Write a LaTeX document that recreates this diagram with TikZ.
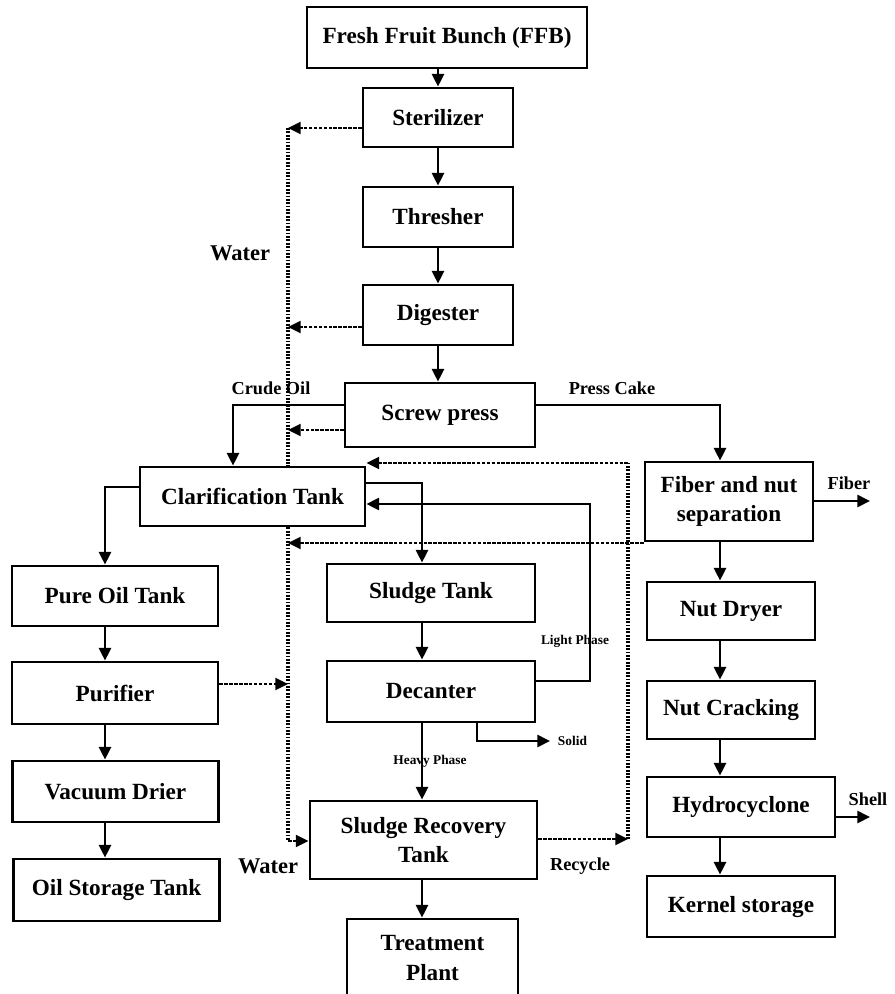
\documentclass[tikz,border=0pt]{standalone}
\usepackage{fontspec}
\setmainfont{Liberation Serif}
\usetikzlibrary{arrows.meta}

\begin{document}
\begin{tikzpicture}[
        x=0.025cm, y=-0.025cm,
        box/.style={draw, line width=2pt, align=center, inner sep=0pt,
                    font=\bfseries\fontsize{16.5}{21}\selectfont},
        arr/.style={-{Triangle[length=9pt, width=8.5pt]}, line width=2pt},
        wline/.style={line width=2.6pt, dash pattern=on 1.3pt off 1.1pt},
        warr/.style={-{Triangle[length=9pt, width=8.5pt]}, line width=1.5pt,
                     dash pattern=on 2.5pt off 1pt},
        lbl/.style={font=\bfseries\fontsize{13}{15}\selectfont},
        slbl/.style={font=\bfseries\fontsize{9.5}{11}\selectfont}
    ]
    \useasboundingbox (0,0) rectangle (895,994);
    \clip (0,0) rectangle (895,994);

    \node[box, minimum width=7cm,    minimum height=1.525cm] (ffb)  at (447,37.5)  {Fresh Fruit Bunch (FFB)};
    \node[box, minimum width=3.75cm, minimum height=1.475cm] (ster) at (438,117.5) {Sterilizer};
    \node[box, minimum width=3.75cm, minimum height=1.5cm]   (thre) at (438,217)   {Thresher};
    \node[box, minimum width=3.75cm, minimum height=1.5cm]   (dige) at (438,315)   {Digester};
    \node[box, minimum width=4.75cm, minimum height=1.6cm]   (scrw) at (440,415)   {Screw press};

    \node[box, minimum width=5.625cm, minimum height=1.475cm] (clar) at (252.5,496.5) {Clarification Tank};
    \node[box, minimum width=5.15cm,  minimum height=1.5cm]   (pure) at (115,596)     {Pure Oil Tank};
    \node[box, minimum width=5.15cm,  minimum height=1.55cm]  (puri) at (115,693)     {Purifier};
    \node[box, minimum width=5.15cm,  minimum height=1.525cm] (vacu) at (115.5,791.5) {Vacuum Drier};
    \node[box, minimum width=5.15cm,  minimum height=1.55cm]  (stor) at (116.5,890)   {Oil Storage Tank};

    \node[box, minimum width=5.2cm,   minimum height=1.45cm]  (sldg) at (431,593)     {Sludge Tank};
    \node[box, minimum width=5.2cm,   minimum height=1.525cm] (deca) at (431,691.5)   {Decanter};
    \node[box, minimum width=5.675cm, minimum height=1.95cm]  (srec) at (423.5,840)   {Sludge Recovery\\Tank};
    \node[box, minimum width=4.275cm, minimum height=1.95cm]  (trea) at (432.5,958)   {Treatment\\Plant};

    \node[box, minimum width=4.2cm, minimum height=1.975cm] (fibr) at (729,501.5) {Fiber and nut\\separation};
    \node[box, minimum width=4.2cm, minimum height=1.45cm]  (nutd) at (731,611)   {Nut Dryer};
    \node[box, minimum width=4.2cm, minimum height=1.45cm]  (nutc) at (731,710)   {Nut Cracking};
    \node[box, minimum width=4.7cm, minimum height=1.5cm]   (hydr) at (741,807)   {Hydrocyclone};
    \node[box, minimum width=4.7cm, minimum height=1.525cm] (kern) at (741,906.5) {Kernel storage};

    \coordinate (mcol) at (438,0);
    \coordinate (lcol) at (105,0);
    \coordinate (scol) at (422,0);
    \coordinate (rcol) at (720,0);

    \draw[arr] (ffb.south -| mcol)  -- (ster.north -| mcol);
    \draw[arr] (ster.south -| mcol) -- (thre.north -| mcol);
    \draw[arr] (thre.south -| mcol) -- (dige.north -| mcol);
    \draw[arr] (dige.south -| mcol) -- (scrw.north -| mcol);

    \coordinate (co) at (233,405);
    \coordinate (pc) at (720,405);
    \draw[arr] (scrw.west |- co) -- (co) -- (clar.north -| co);
    \draw[arr] (scrw.east |- pc) -- (pc) -- (fibr.north -| pc);
    \node[lbl] (colbl) at (271,388) {Crude Oil};
    \node[lbl] (pclbl) at (612,388) {Press Cake};

    \coordinate (lt) at (105,487);
    \draw[arr] (clar.west |- lt) -- (lt) -- (pure.north -| lt);
    \draw[arr] (pure.south -| lcol) -- (puri.north -| lcol);
    \draw[arr] (puri.south -| lcol) -- (vacu.north -| lcol);
    \draw[arr] (vacu.south -| lcol) -- (stor.north -| lcol);

    \coordinate (st) at (422,483);
    \draw[arr] (clar.east |- st) -- (st) -- (sldg.north -| st);
    \draw[arr] (sldg.south -| scol) -- (deca.north -| scol);
    \draw[arr] (deca.south -| scol) -- (srec.north -| scol);
    \draw[arr] (srec.south -| scol) -- (trea.north -| scol);
    \node[slbl] (hplbl) at (430,761) {Heavy Phase};

    \coordinate (lp1) at (590,681);
    \coordinate (lp2) at (590,504);
    \draw[arr] (deca.east |- lp1) -- (lp1) -- (lp2) -- (clar.east |- lp2);
    \node[slbl] (lplbl) at (575,641) {Light Phase};

    \coordinate (sd1) at (477,741);
    \coordinate (sd2) at (550,741);
    \draw[arr] (deca.south -| sd1) -- (sd1) -- (sd2);
    \node[slbl, anchor=west] (sdlbl) at (553,741) {Solid};

    \draw[arr] (fibr.south -| rcol) -- (nutd.north -| rcol);
    \draw[arr] (nutd.south -| rcol) -- (nutc.north -| rcol);
    \draw[arr] (nutc.south -| rcol) -- (hydr.north -| rcol);
    \draw[arr] (hydr.south -| rcol) -- (kern.north -| rcol);

    \coordinate (fb) at (870,501);
    \coordinate (sh) at (870,817);
    \draw[arr] (fibr.east |- fb) -- (fb);
    \draw[arr] (hydr.east |- sh) -- (sh);
    \node[lbl] (fblbl) at (849,483) {Fiber};
    \node[lbl] (shlbl) at (868,799) {Shell};

    \coordinate (w1) at (288,128);
    \coordinate (w2) at (288,327);
    \coordinate (w3) at (288,430);
    \coordinate (w4) at (288,543);
    \coordinate (w5) at (288,684);
    \coordinate (w6) at (288,841);
    \draw[wline] (w1) -- (clar.north -| w1);
    \draw[wline] (clar.south -| w1) -- (w6);
    \draw[warr] (w6) -- (srec.west |- w6);
    \draw[warr] (ster.west |- w1) -- (w1);
    \draw[warr] (dige.west |- w2) -- (w2);
    \draw[warr] (scrw.west |- w3) -- (w3);
    \draw[warr] (fibr.west |- w4) -- (w4);
    \draw[warr] (puri.east |- w5) -- (w5);
    \node[lbl, font=\bfseries\fontsize{16}{18}\selectfont] (wlbl1) at (240,253) {Water};
    \node[lbl, font=\bfseries\fontsize{16}{18}\selectfont] (wlbl2) at (268,866) {Water};

    \coordinate (rc1) at (628,839);
    \coordinate (rc2) at (628,463);
    \draw[warr] (srec.east |- rc1) -- (rc1);
    \draw[wline] (rc1) -- (rc2);
    \draw[warr] (rc2) -- (clar.east |- rc2);
    \node[lbl] (rclbl) at (580,866) {Recycle};
\end{tikzpicture}
\end{document}
